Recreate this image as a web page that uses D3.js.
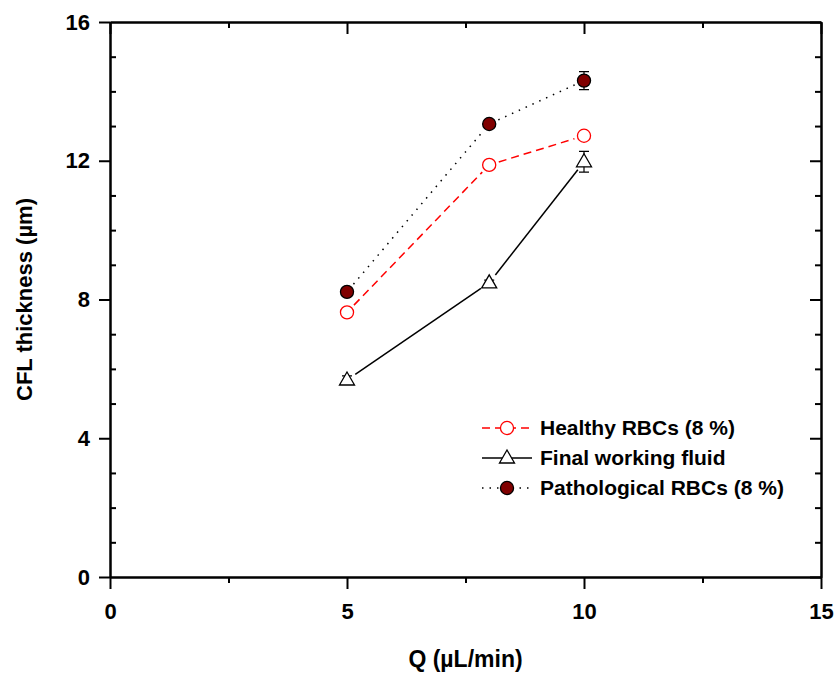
<!DOCTYPE html>
<html>
<head>
<meta charset="utf-8">
<script src="https://cdn.jsdelivr.net/npm/d3@7"></script>
<style>
  body { margin: 0; background: #fff; }
  svg { font-family: "Liberation Sans", Arial, sans-serif; font-weight: bold; }
  .axis path, .axis line { stroke: #000; stroke-width: 2; }
  .axis text { font-size: 22px; font-weight: bold; fill: #000; font-family: "Liberation Sans", Arial, sans-serif; }
</style>
</head>
<body>
<div id="main"></div>
<script>
// data
const flowRates = [5, 8, 10];
const healthy = [7.63, 11.88, 12.72];
const healthyErr = [0.08, 0.1, 0.1];
const fluid = [5.68, 8.48, 11.97];
const fluidErr = [0.12, 0.08, 0.3];
const patho = [8.22, 13.06, 14.31];
const pathoErr = [0.1, 0.12, 0.26];

const xTicks = [0, 5, 10, 15];
const xMinor = [2.5, 7.5, 12.5];
const yTicks = [0, 4, 8, 12, 16];
const yMinor = [1, 2, 3, 5, 6, 7, 9, 10, 11, 13, 14, 15];

const seriesNames = ["Healthy RBCs (8 %)", "Final working fluid", "Pathological RBCs (8 %)"];

const W = 839, H = 677;
const plotLeft = 110, plotRight = 821, plotTop = 22, plotBottom = 577;

const svg = d3.select('#main')
  .append('svg')
  .attr('width', W)
  .attr('height', H);

const x = d3.scaleLinear().domain([0, 15]).range([plotLeft, plotRight]);
const y = d3.scaleLinear().domain([0, 16]).range([plotBottom, plotTop]);

// bottom axis, ticks out
svg.append('g').attr('class', 'axis')
  .attr('transform', `translate(0,${plotBottom})`)
  .call(d3.axisBottom(x).tickValues(xTicks).tickSize(12).tickSizeOuter(0).tickPadding(14));
svg.append('g').attr('class', 'axis')
  .attr('transform', `translate(0,${plotBottom})`)
  .call(d3.axisBottom(x).tickValues(xMinor).tickSize(6).tickSizeOuter(0).tickFormat(''));

// top axis, ticks in
svg.append('g').attr('class', 'axis')
  .attr('transform', `translate(0,${plotTop})`)
  .call(d3.axisTop(x).tickValues(xTicks).tickSize(-12).tickSizeOuter(0).tickFormat(''));
svg.append('g').attr('class', 'axis')
  .attr('transform', `translate(0,${plotTop})`)
  .call(d3.axisTop(x).tickValues(xMinor).tickSize(-6).tickSizeOuter(0).tickFormat(''));

// left axis, major out, minor in
svg.append('g').attr('class', 'axis')
  .attr('transform', `translate(${plotLeft},0)`)
  .call(d3.axisLeft(y).tickValues(yTicks).tickSize(11).tickSizeOuter(0).tickPadding(9));
svg.append('g').attr('class', 'axis')
  .attr('transform', `translate(${plotLeft},0)`)
  .call(d3.axisLeft(y).tickValues(yMinor).tickSize(-6).tickSizeOuter(0).tickFormat(''));

// right axis, ticks in
svg.append('g').attr('class', 'axis')
  .attr('transform', `translate(${plotRight},0)`)
  .call(d3.axisRight(y).tickValues(yTicks).tickSize(-11).tickSizeOuter(0).tickFormat(''));
svg.append('g').attr('class', 'axis')
  .attr('transform', `translate(${plotRight},0)`)
  .call(d3.axisRight(y).tickValues(yMinor).tickSize(-6).tickSizeOuter(0).tickFormat(''));

// axis titles
svg.append('text')
  .attr('x', (plotLeft + plotRight) / 2)
  .attr('y', 667)
  .attr('text-anchor', 'middle')
  .attr('font-size', '23px')
  .text('Q (µL/min)');

svg.append('text')
  .attr('transform', `translate(32,${(plotTop + plotBottom) / 2}) rotate(-90)`)
  .attr('text-anchor', 'middle')
  .attr('font-size', '22px')
  .text('CFL thickness (µm)');

const series = [
  { name: seriesNames[0], values: healthy, err: healthyErr, stroke: '#ff0000', dash: '8,5', marker: 'circle', fill: '#fff', mstroke: '#ff0000' },
  { name: seriesNames[1], values: fluid, err: fluidErr, stroke: '#000', dash: null, marker: 'triangle', fill: '#fff', mstroke: '#000' },
  { name: seriesNames[2], values: patho, err: pathoErr, stroke: '#000', dash: '1.5,6', marker: 'circle', fill: '#800000', mstroke: '#000' }
];

const markerPath = {
  circle: d3.symbol().type(d3.symbolCircle).size(135)(),
  triangle: 'M0,-8L7.5,5L-7.5,5Z'
};

// connecting segments, stopped short of the markers
const gap = 10;
series.forEach((s) => {
  const pts = flowRates.map((f, i) => [x(f), y(s.values[i])]);
  d3.pairs(pts).forEach(([a, b]) => {
    const dx = b[0] - a[0], dy = b[1] - a[1];
    const len = Math.hypot(dx, dy);
    const ux = dx / len, uy = dy / len;
    svg.append('line')
      .attr('x1', a[0] + ux * gap).attr('y1', a[1] + uy * gap)
      .attr('x2', b[0] - ux * gap).attr('y2', b[1] - uy * gap)
      .attr('stroke', s.stroke)
      .attr('stroke-width', 1.5)
      .attr('stroke-dasharray', s.dash);
  });
});

series.forEach((s) => {
  const g = svg.append('g');
  flowRates.forEach((f, i) => {
    const cx = x(f), y0 = y(s.values[i] - s.err[i]), y1 = y(s.values[i] + s.err[i]);
    g.append('path')
      .attr('d', `M${cx},${y0}V${y1}M${cx - 5},${y0}H${cx + 5}M${cx - 5},${y1}H${cx + 5}`)
      .attr('stroke', '#000')
      .attr('stroke-width', 1.2)
      .attr('fill', 'none');
  });
  g.selectAll('.m')
    .data(flowRates)
    .enter().append('path')
    .attr('transform', (d, i) => `translate(${x(d)},${y(s.values[i])})`)
    .attr('d', markerPath[s.marker])
    .attr('fill', s.fill)
    .attr('stroke', s.mstroke)
    .attr('stroke-width', 1.3);
});

// legend
const legend = svg.selectAll('.legend')
  .data(series)
  .enter().append('g')
  .attr('transform', (d, i) => `translate(482,${428 + i * 30})`);

legend.append('line')
  .attr('x1', 0).attr('x2', 50)
  .attr('stroke', (d) => d.stroke)
  .attr('stroke-width', 1.5)
  .attr('stroke-dasharray', (d) => d.dash);

legend.append('path')
  .attr('transform', 'translate(25,0)')
  .attr('d', (d) => markerPath[d.marker])
  .attr('fill', (d) => d.fill)
  .attr('stroke', (d) => d.mstroke)
  .attr('stroke-width', 1.3);

legend.append('text')
  .attr('x', 58)
  .attr('y', 7)
  .attr('font-size', '21px')
  .text((d) => d.name);
</script>
</body>
</html>
